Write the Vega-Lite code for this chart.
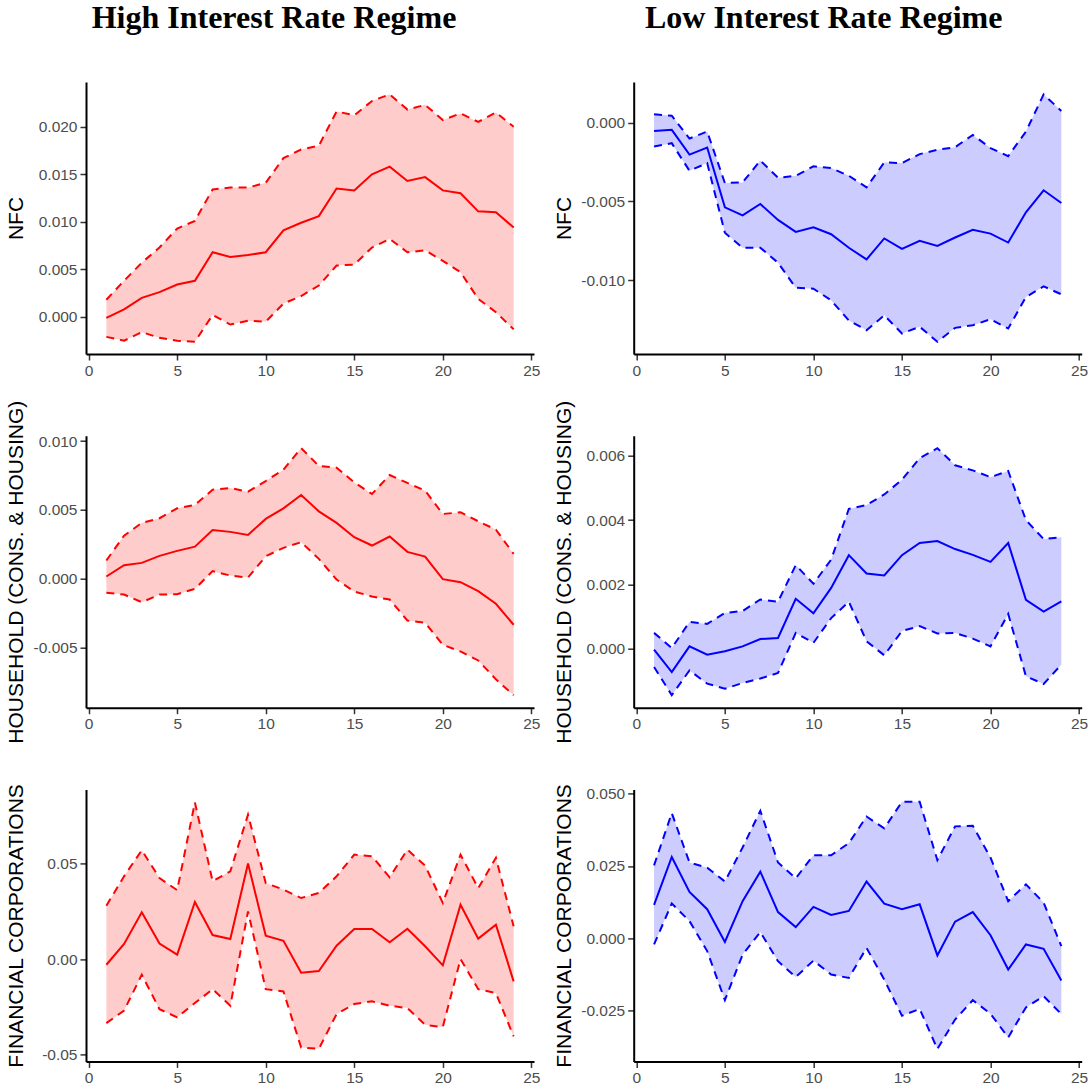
{
  "$schema": "https://vega.github.io/schema/vega-lite/v6.json",
  "padding": {"left": 5, "top": 2, "right": 0, "bottom": 0},
  "background": "white",
  "columns": 2,
  "spacing": {"row": 81.7, "column": 99.7},
  "bounds": "flush",
  "align": "each",
  "datasets": {
    "hnfc": [
      {"h":1,"est":-0.0001,"lo":-0.0021,"hi":0.0018},{"h":2,"est":0.0008,"lo":-0.0025,"hi":0.0038},{"h":3,"est":0.0020,"lo":-0.0016,"hi":0.0057},{"h":4,"est":0.0026,"lo":-0.0022,"hi":0.0073},{"h":5,"est":0.0034,"lo":-0.0025,"hi":0.0093},{"h":6,"est":0.0038,"lo":-0.0026,"hi":0.0101},{"h":7,"est":0.0068,"lo":0.0002,"hi":0.0134},{"h":8,"est":0.0063,"lo":-0.0008,"hi":0.0136},{"h":9,"est":0.0065,"lo":-0.0004,"hi":0.0136},{"h":10,"est":0.0068,"lo":-0.0005,"hi":0.0141},{"h":11,"est":0.0091,"lo":0.0014,"hi":0.0167},{"h":12,"est":0.0099,"lo":0.0022,"hi":0.0176},{"h":13,"est":0.0106,"lo":0.0033,"hi":0.0180},{"h":14,"est":0.0135,"lo":0.0054,"hi":0.0216},{"h":15,"est":0.0133,"lo":0.0055,"hi":0.0212},{"h":16,"est":0.0150,"lo":0.0073,"hi":0.0227},{"h":17,"est":0.0158,"lo":0.0082,"hi":0.0234},{"h":18,"est":0.0143,"lo":0.0068,"hi":0.0218},{"h":19,"est":0.0147,"lo":0.0070,"hi":0.0223},{"h":20,"est":0.0133,"lo":0.0059,"hi":0.0207},{"h":21,"est":0.0130,"lo":0.0047,"hi":0.0214},{"h":22,"est":0.0111,"lo":0.0019,"hi":0.0205},{"h":23,"est":0.0110,"lo":0.0005,"hi":0.0215},{"h":24,"est":0.0094,"lo":-0.0013,"hi":0.0200}
    ],
    "lnfc": [
      {"h":1,"est":-0.00053,"lo":-0.00152,"hi":0.00053},{"h":2,"est":-0.00046,"lo":-0.00131,"hi":0.00044},{"h":3,"est":-0.00203,"lo":-0.00306,"hi":-0.00101},{"h":4,"est":-0.00158,"lo":-0.00257,"hi":-0.00057},{"h":5,"est":-0.00538,"lo":-0.00700,"hi":-0.00384},{"h":6,"est":-0.00589,"lo":-0.00795,"hi":-0.00380},{"h":7,"est":-0.00517,"lo":-0.00795,"hi":-0.00241},{"h":8,"est":-0.00618,"lo":-0.00890,"hi":-0.00350},{"h":9,"est":-0.00694,"lo":-0.01049,"hi":-0.00338},{"h":10,"est":-0.00665,"lo":-0.01055,"hi":-0.00278},{"h":11,"est":-0.00709,"lo":-0.01129,"hi":-0.00289},{"h":12,"est":-0.00795,"lo":-0.01257,"hi":-0.00338},{"h":13,"est":-0.00869,"lo":-0.01319,"hi":-0.00411},{"h":14,"est":-0.00736,"lo":-0.01224,"hi":-0.00253},{"h":15,"est":-0.00802,"lo":-0.01340,"hi":-0.00257},{"h":16,"est":-0.00751,"lo":-0.01297,"hi":-0.00200},{"h":17,"est":-0.00783,"lo":-0.01392,"hi":-0.00173},{"h":18,"est":-0.00730,"lo":-0.01304,"hi":-0.00156},{"h":19,"est":-0.00681,"lo":-0.01287,"hi":-0.00078},{"h":20,"est":-0.00705,"lo":-0.01249,"hi":-0.00162},{"h":21,"est":-0.00762,"lo":-0.01308,"hi":-0.00213},{"h":22,"est":-0.00570,"lo":-0.01108,"hi":-0.00057},{"h":23,"est":-0.00430,"lo":-0.01040,"hi":0.00179},{"h":24,"est":-0.00511,"lo":-0.01091,"hi":0.00074}
    ],
    "hhh": [
      {"h":1,"est":0.00017,"lo":-0.00101,"hi":0.00133},{"h":2,"est":0.00099,"lo":-0.00114,"hi":0.00314},{"h":3,"est":0.00116,"lo":-0.00169,"hi":0.00406},{"h":4,"est":0.00167,"lo":-0.00114,"hi":0.00440},{"h":5,"est":0.00203,"lo":-0.00111,"hi":0.00512},{"h":6,"est":0.00234,"lo":-0.00072,"hi":0.00536},{"h":7,"est":0.00355,"lo":0.00056,"hi":0.00647},{"h":8,"est":0.00341,"lo":0.00024,"hi":0.00659},{"h":9,"est":0.00319,"lo":0.00010,"hi":0.00633},{"h":10,"est":0.00435,"lo":0.00164,"hi":0.00710},{"h":11,"est":0.00512,"lo":0.00225,"hi":0.00792},{"h":12,"est":0.00609,"lo":0.00266,"hi":0.00949},{"h":13,"est":0.00490,"lo":0.00145,"hi":0.00819},{"h":14,"est":0.00406,"lo":-0.00005,"hi":0.00807},{"h":15,"est":0.00302,"lo":-0.00092,"hi":0.00700},{"h":16,"est":0.00242,"lo":-0.00128,"hi":0.00616},{"h":17,"est":0.00307,"lo":-0.00150,"hi":0.00754},{"h":18,"est":0.00196,"lo":-0.00302,"hi":0.00696},{"h":19,"est":0.00162,"lo":-0.00319,"hi":0.00640},{"h":20,"est":-0.00002,"lo":-0.00478,"hi":0.00471},{"h":21,"est":-0.00024,"lo":-0.00527,"hi":0.00483},{"h":22,"est":-0.00089,"lo":-0.00592,"hi":0.00418},{"h":23,"est":-0.00181,"lo":-0.00729,"hi":0.00357},{"h":24,"est":-0.00333,"lo":-0.00845,"hi":0.00181}
    ],
    "lhh": [
      {"h":1,"est":-0.00003,"lo":-0.00057,"hi":0.00049},{"h":2,"est":-0.00073,"lo":-0.00145,"hi":0.00002},{"h":3,"est":0.00007,"lo":-0.00068,"hi":0.00083},{"h":4,"est":-0.00019,"lo":-0.00109,"hi":0.00077},{"h":5,"est":-0.00008,"lo":-0.00125,"hi":0.00111},{"h":6,"est":0.00007,"lo":-0.00107,"hi":0.00117},{"h":7,"est":0.00030,"lo":-0.00093,"hi":0.00153},{"h":8,"est":0.00033,"lo":-0.00076,"hi":0.00146},{"h":9,"est":0.00155,"lo":0.00049,"hi":0.00260},{"h":10,"est":0.00110,"lo":0.00018,"hi":0.00202},{"h":11,"est":0.00189,"lo":0.00095,"hi":0.00277},{"h":12,"est":0.00291,"lo":0.00146,"hi":0.00435},{"h":13,"est":0.00234,"lo":0.00023,"hi":0.00447},{"h":14,"est":0.00228,"lo":-0.00021,"hi":0.00480},{"h":15,"est":0.00291,"lo":0.00055,"hi":0.00526},{"h":16,"est":0.00329,"lo":0.00070,"hi":0.00593},{"h":17,"est":0.00335,"lo":0.00047,"hi":0.00624},{"h":18,"est":0.00310,"lo":0.00049,"hi":0.00571},{"h":19,"est":0.00292,"lo":0.00031,"hi":0.00555},{"h":20,"est":0.00270,"lo":0.00007,"hi":0.00534},{"h":21,"est":0.00329,"lo":0.00108,"hi":0.00553},{"h":22,"est":0.00152,"lo":-0.00086,"hi":0.00400},{"h":23,"est":0.00115,"lo":-0.00110,"hi":0.00341},{"h":24,"est":0.00147,"lo":-0.00050,"hi":0.00347}
    ],
    "hfin": [
      {"h":1,"est":-0.0030,"lo":-0.0336,"hi":0.0280},{"h":2,"est":0.0079,"lo":-0.0270,"hi":0.0434},{"h":3,"est":0.0245,"lo":-0.0082,"hi":0.0571},{"h":4,"est":0.0081,"lo":-0.0263,"hi":0.0425},{"h":5,"est":0.0023,"lo":-0.0306,"hi":0.0361},{"h":6,"est":0.0299,"lo":-0.0231,"hi":0.0822},{"h":7,"est":0.0126,"lo":-0.0158,"hi":0.0408},{"h":8,"est":0.0105,"lo":-0.0245,"hi":0.0460},{"h":9,"est":0.0501,"lo":0.0250,"hi":0.0758},{"h":10,"est":0.0123,"lo":-0.0158,"hi":0.0399},{"h":11,"est":0.0096,"lo":-0.0170,"hi":0.0364},{"h":12,"est":-0.0072,"lo":-0.0464,"hi":0.0320},{"h":13,"est":-0.0063,"lo":-0.0471,"hi":0.0347},{"h":14,"est":0.0070,"lo":-0.0289,"hi":0.0434},{"h":15,"est":0.0158,"lo":-0.0236,"hi":0.0548},{"h":16,"est":0.0158,"lo":-0.0222,"hi":0.0539},{"h":17,"est":0.0088,"lo":-0.0245,"hi":0.0429},{"h":18,"est":0.0159,"lo":-0.0257,"hi":0.0574},{"h":19,"est":0.0067,"lo":-0.0345,"hi":0.0490},{"h":20,"est":-0.0033,"lo":-0.0357,"hi":0.0294},{"h":21,"est":0.0285,"lo":0.0000,"hi":0.0548},{"h":22,"est":0.0107,"lo":-0.0158,"hi":0.0372},{"h":23,"est":0.0180,"lo":-0.0179,"hi":0.0531},{"h":24,"est":-0.0117,"lo":-0.0406,"hi":0.0172}
    ],
    "lfin": [
      {"h":1,"est":0.0115,"lo":-0.0022,"hi":0.0252},{"h":2,"est":0.0281,"lo":0.0120,"hi":0.0433},{"h":3,"est":0.0160,"lo":0.0059,"hi":0.0262},{"h":4,"est":0.0100,"lo":-0.0045,"hi":0.0244},{"h":5,"est":-0.0013,"lo":-0.0215,"hi":0.0196},{"h":6,"est":0.0128,"lo":-0.0057,"hi":0.0314},{"h":7,"est":0.0230,"lo":0.0021,"hi":0.0441},{"h":8,"est":0.0090,"lo":-0.0080,"hi":0.0262},{"h":9,"est":0.0038,"lo":-0.0135,"hi":0.0207},{"h":10,"est":0.0108,"lo":-0.0078,"hi":0.0287},{"h":11,"est":0.0080,"lo":-0.0126,"hi":0.0287},{"h":12,"est":0.0094,"lo":-0.0138,"hi":0.0329},{"h":13,"est":0.0196,"lo":-0.0034,"hi":0.0421},{"h":14,"est":0.0119,"lo":-0.0144,"hi":0.0380},{"h":15,"est":0.0100,"lo":-0.0269,"hi":0.0472},{"h":16,"est":0.0117,"lo":-0.0245,"hi":0.0472},{"h":17,"est":-0.0060,"lo":-0.0384,"hi":0.0270},{"h":18,"est":0.0057,"lo":-0.0282,"hi":0.0387},{"h":19,"est":0.0090,"lo":-0.0215,"hi":0.0389},{"h":20,"est":0.0010,"lo":-0.0262,"hi":0.0279},{"h":21,"est":-0.0109,"lo":-0.0344,"hi":0.0128},{"h":22,"est":-0.0022,"lo":-0.0240,"hi":0.0186},{"h":23,"est":-0.0037,"lo":-0.0201,"hi":0.0123},{"h":24,"est":-0.0147,"lo":-0.0263,"hi":-0.0028}
    ]
  },
  "concat": [
    {
      "width": 448, "height": 272,
      "title": {"text": "High Interest Rate Regime", "font": "Liberation Serif", "fontSize": 32, "fontWeight": "bold", "color": "black", "anchor": "middle", "frame": "group", "baseline": "alphabetic", "offset": 22, "dx": -36},
      "data": {"name": "hnfc"},
      "encoding": {"x": {"field": "h", "type": "quantitative", "scale": {"domain": [-0.15, 25.15], "nice": false, "zero": false}, "axis": {"values": [0,5,10,15,20,25], "title": null, "labelFlush": false, "format": "d"}}},
      "layer": [
        {"mark": {"type": "area", "color": "#FFCCCC", "opacity": 1}, "encoding": {"y": {"field": "lo", "type": "quantitative", "title": "NFC", "scale": {"domain": [-0.0039, 0.0247], "nice": false, "zero": false}, "axis": {"values": [0, 0.005, 0.01, 0.015, 0.02], "format": ".3f", "labelExpr": "replace(datum.label, '−', '-')"}}, "y2": {"field": "hi"}}},
        {"data": {"values": [{"ref": 0}]}, "mark": {"type": "rule", "color": "#333333", "strokeWidth": 1}, "encoding": {"y": {"field": "ref", "type": "quantitative", "title": "NFC"}}},
        {"mark": {"type": "line", "color": "#FF0000", "strokeWidth": 2, "strokeDash": [8, 6]}, "encoding": {"y": {"field": "hi", "type": "quantitative", "title": "NFC"}}},
        {"mark": {"type": "line", "color": "#FF0000", "strokeWidth": 2, "strokeDash": [8, 6]}, "encoding": {"y": {"field": "lo", "type": "quantitative", "title": "NFC"}}},
        {"mark": {"type": "line", "color": "#FF0000", "strokeWidth": 2}, "encoding": {"y": {"field": "est", "type": "quantitative", "title": "NFC"}}}
      ]
    },
    {
      "width": 448, "height": 272,
      "title": {"text": "Low Interest Rate Regime", "font": "Liberation Serif", "fontSize": 32, "fontWeight": "bold", "color": "black", "anchor": "middle", "frame": "group", "baseline": "alphabetic", "offset": 22, "dx": -34},
      "data": {"name": "lnfc"},
      "encoding": {"x": {"field": "h", "type": "quantitative", "scale": {"domain": [-0.15, 25.15], "nice": false, "zero": false}, "axis": {"values": [0,5,10,15,20,25], "title": null, "labelFlush": false, "format": "d"}}},
      "layer": [
        {"mark": {"type": "area", "color": "#CCCCFF", "opacity": 1}, "encoding": {"y": {"field": "lo", "type": "quantitative", "title": "NFC", "scale": {"domain": [-0.0147, 0.00258], "nice": false, "zero": false}, "axis": {"values": [-0.01, -0.005, 0], "format": ".3f", "labelExpr": "replace(datum.label, '−', '-')"}}, "y2": {"field": "hi"}}},
        {"data": {"values": [{"ref": 0}]}, "mark": {"type": "rule", "color": "#333333", "strokeWidth": 1}, "encoding": {"y": {"field": "ref", "type": "quantitative", "title": "NFC"}}},
        {"mark": {"type": "line", "color": "#0000FF", "strokeWidth": 2, "strokeDash": [8, 6]}, "encoding": {"y": {"field": "hi", "type": "quantitative", "title": "NFC"}}},
        {"mark": {"type": "line", "color": "#0000FF", "strokeWidth": 2, "strokeDash": [8, 6]}, "encoding": {"y": {"field": "lo", "type": "quantitative", "title": "NFC"}}},
        {"mark": {"type": "line", "color": "#0000FF", "strokeWidth": 2}, "encoding": {"y": {"field": "est", "type": "quantitative", "title": "NFC"}}}
      ]
    },
    {
      "width": 448, "height": 272,
      "data": {"name": "hhh"},
      "encoding": {"x": {"field": "h", "type": "quantitative", "scale": {"domain": [-0.15, 25.15], "nice": false, "zero": false}, "axis": {"values": [0,5,10,15,20,25], "title": null, "labelFlush": false, "format": "d"}}},
      "layer": [
        {"mark": {"type": "area", "color": "#FFCCCC", "opacity": 1}, "encoding": {"y": {"field": "lo", "type": "quantitative", "title": "HOUSEHOLD (CONS. & HOUSING)", "scale": {"domain": [-0.00935, 0.01039], "nice": false, "zero": false}, "axis": {"values": [-0.005, 0, 0.005, 0.01], "format": ".3f", "labelExpr": "replace(datum.label, '−', '-')"}}, "y2": {"field": "hi"}}},
        {"data": {"values": [{"ref": 0}]}, "mark": {"type": "rule", "color": "#333333", "strokeWidth": 1}, "encoding": {"y": {"field": "ref", "type": "quantitative", "title": "HOUSEHOLD (CONS. & HOUSING)"}}},
        {"mark": {"type": "line", "color": "#FF0000", "strokeWidth": 2, "strokeDash": [8, 6]}, "encoding": {"y": {"field": "hi", "type": "quantitative", "title": "HOUSEHOLD (CONS. & HOUSING)"}}},
        {"mark": {"type": "line", "color": "#FF0000", "strokeWidth": 2, "strokeDash": [8, 6]}, "encoding": {"y": {"field": "lo", "type": "quantitative", "title": "HOUSEHOLD (CONS. & HOUSING)"}}},
        {"mark": {"type": "line", "color": "#FF0000", "strokeWidth": 2}, "encoding": {"y": {"field": "est", "type": "quantitative", "title": "HOUSEHOLD (CONS. & HOUSING)"}}}
      ]
    },
    {
      "width": 448, "height": 272,
      "data": {"name": "lhh"},
      "encoding": {"x": {"field": "h", "type": "quantitative", "scale": {"domain": [-0.15, 25.15], "nice": false, "zero": false}, "axis": {"values": [0,5,10,15,20,25], "title": null, "labelFlush": false, "format": "d"}}},
      "layer": [
        {"mark": {"type": "area", "color": "#CCCCFF", "opacity": 1}, "encoding": {"y": {"field": "lo", "type": "quantitative", "title": "HOUSEHOLD (CONS. & HOUSING)", "scale": {"domain": [-0.00184, 0.00663], "nice": false, "zero": false}, "axis": {"values": [0, 0.002, 0.004, 0.006], "format": ".3f", "labelExpr": "replace(datum.label, '−', '-')"}}, "y2": {"field": "hi"}}},
        {"data": {"values": [{"ref": 0}]}, "mark": {"type": "rule", "color": "#333333", "strokeWidth": 1}, "encoding": {"y": {"field": "ref", "type": "quantitative", "title": "HOUSEHOLD (CONS. & HOUSING)"}}},
        {"mark": {"type": "line", "color": "#0000FF", "strokeWidth": 2, "strokeDash": [8, 6]}, "encoding": {"y": {"field": "hi", "type": "quantitative", "title": "HOUSEHOLD (CONS. & HOUSING)"}}},
        {"mark": {"type": "line", "color": "#0000FF", "strokeWidth": 2, "strokeDash": [8, 6]}, "encoding": {"y": {"field": "lo", "type": "quantitative", "title": "HOUSEHOLD (CONS. & HOUSING)"}}},
        {"mark": {"type": "line", "color": "#0000FF", "strokeWidth": 2}, "encoding": {"y": {"field": "est", "type": "quantitative", "title": "HOUSEHOLD (CONS. & HOUSING)"}}}
      ]
    },
    {
      "width": 448, "height": 272,
      "data": {"name": "hfin"},
      "encoding": {"x": {"field": "h", "type": "quantitative", "scale": {"domain": [-0.15, 25.15], "nice": false, "zero": false}, "axis": {"values": [0,5,10,15,20,25], "title": null, "labelFlush": false, "format": "d"}}},
      "layer": [
        {"mark": {"type": "area", "color": "#FFCCCC", "opacity": 1}, "encoding": {"y": {"field": "lo", "type": "quantitative", "title": "FINANCIAL CORPORATIONS", "scale": {"domain": [-0.0537, 0.0890], "nice": false, "zero": false}, "axis": {"values": [-0.05, 0, 0.05], "format": ".2f", "labelExpr": "replace(datum.label, '−', '-')"}}, "y2": {"field": "hi"}}},
        {"data": {"values": [{"ref": 0}]}, "mark": {"type": "rule", "color": "#333333", "strokeWidth": 1}, "encoding": {"y": {"field": "ref", "type": "quantitative", "title": "FINANCIAL CORPORATIONS"}}},
        {"mark": {"type": "line", "color": "#FF0000", "strokeWidth": 2, "strokeDash": [8, 6]}, "encoding": {"y": {"field": "hi", "type": "quantitative", "title": "FINANCIAL CORPORATIONS"}}},
        {"mark": {"type": "line", "color": "#FF0000", "strokeWidth": 2, "strokeDash": [8, 6]}, "encoding": {"y": {"field": "lo", "type": "quantitative", "title": "FINANCIAL CORPORATIONS"}}},
        {"mark": {"type": "line", "color": "#FF0000", "strokeWidth": 2}, "encoding": {"y": {"field": "est", "type": "quantitative", "title": "FINANCIAL CORPORATIONS"}}}
      ]
    },
    {
      "width": 448, "height": 272,
      "data": {"name": "lfin"},
      "encoding": {"x": {"field": "h", "type": "quantitative", "scale": {"domain": [-0.15, 25.15], "nice": false, "zero": false}, "axis": {"values": [0,5,10,15,20,25], "title": null, "labelFlush": false, "format": "d"}}},
      "layer": [
        {"mark": {"type": "area", "color": "#CCCCFF", "opacity": 1}, "encoding": {"y": {"field": "lo", "type": "quantitative", "title": "FINANCIAL CORPORATIONS", "scale": {"domain": [-0.0427, 0.0515], "nice": false, "zero": false}, "axis": {"values": [-0.025, 0, 0.025, 0.05], "format": ".3f", "labelExpr": "replace(datum.label, '−', '-')"}}, "y2": {"field": "hi"}}},
        {"data": {"values": [{"ref": 0}]}, "mark": {"type": "rule", "color": "#333333", "strokeWidth": 1}, "encoding": {"y": {"field": "ref", "type": "quantitative", "title": "FINANCIAL CORPORATIONS"}}},
        {"mark": {"type": "line", "color": "#0000FF", "strokeWidth": 2, "strokeDash": [8, 6]}, "encoding": {"y": {"field": "hi", "type": "quantitative", "title": "FINANCIAL CORPORATIONS"}}},
        {"mark": {"type": "line", "color": "#0000FF", "strokeWidth": 2, "strokeDash": [8, 6]}, "encoding": {"y": {"field": "lo", "type": "quantitative", "title": "FINANCIAL CORPORATIONS"}}},
        {"mark": {"type": "line", "color": "#0000FF", "strokeWidth": 2}, "encoding": {"y": {"field": "est", "type": "quantitative", "title": "FINANCIAL CORPORATIONS"}}}
      ]
    }
  ],
  "config": {
    "view": {"stroke": null},
    "axis": {"grid": false, "domainColor": "black", "domainWidth": 2, "tickColor": "#333333", "tickWidth": 1.5, "tickSize": 6, "labelPadding": 3, "labelFont": "Liberation Sans", "labelFontSize": 15.5, "labelColor": "#4D4D4D", "titleFont": "Liberation Sans", "titleFontSize": 21, "titleFontWeight": "normal", "titleColor": "black"},
    "axisY": {"minExtent": 50, "maxExtent": 50, "titlePadding": 9.6},
    "axisX": {"labelPadding": 3}
  }
}
